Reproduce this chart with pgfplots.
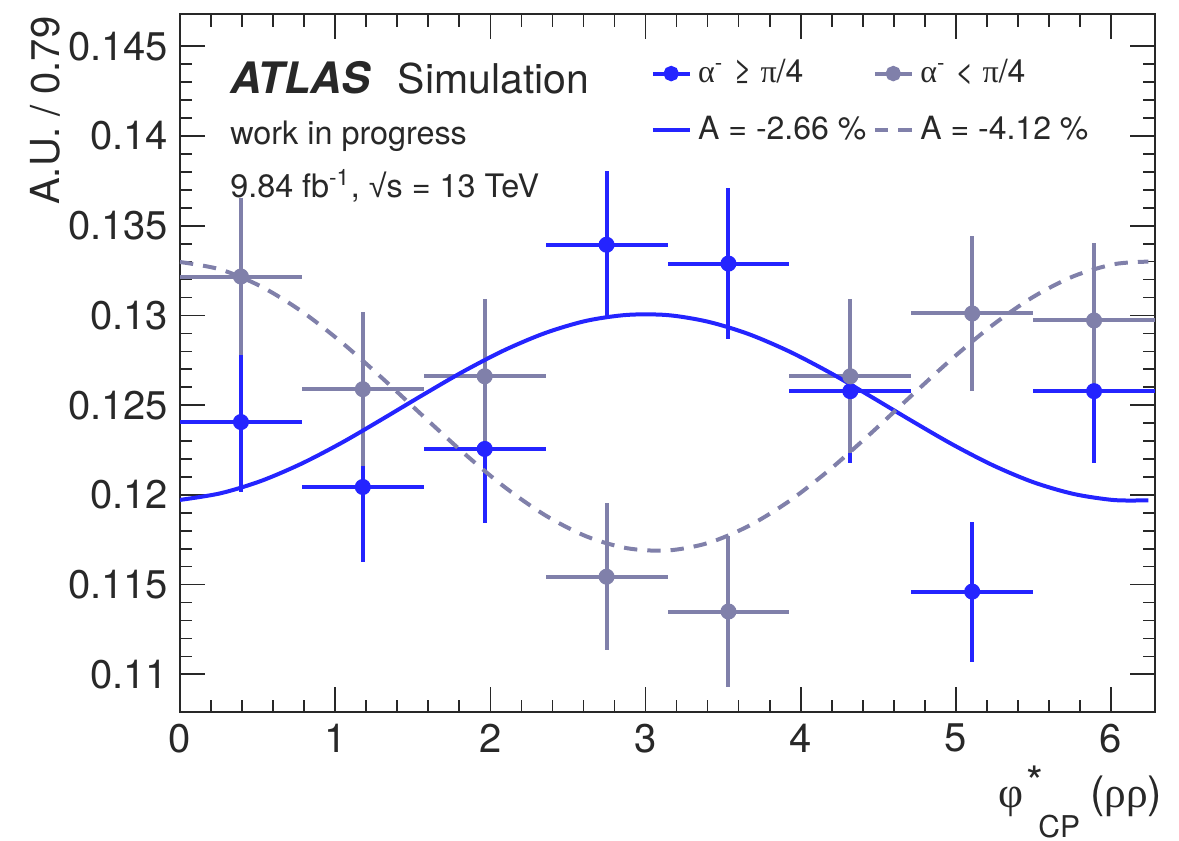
\documentclass[border=0pt]{standalone}
\usepackage{fontspec}
\setmainfont{TeX Gyre Heros}
\newfontfamily\grk{Liberation Serif}
\newfontfamily\libsans{Liberation Sans}
\usepackage{pgfplots}
\pgfplotsset{compat=1.18}
\definecolor{atlblue}{RGB}{36,36,255}
\definecolor{atlgrey}{RGB}{128,128,170}
\definecolor{axgrey}{RGB}{40,40,40}

% bin centres, half bin width, value, error
\pgfplotstableread{
x      ex      y       ey
0.3927 0.3927  0.12406 0.0039
1.1781 0.3927  0.12044 0.0042
1.9635 0.3927  0.12256 0.0041
2.7489 0.3927  0.13394 0.0041
3.5343 0.3927  0.13289 0.0042
4.3197 0.3927  0.12578 0.0040
5.1051 0.3927  0.11461 0.0039
5.8905 0.3927  0.12578 0.0040
}\bluedata
\pgfplotstableread{
x      ex      y       ey
0.3927 0.3927  0.13217 0.0044
1.1781 0.3927  0.12589 0.0043
1.9635 0.3927  0.12661 0.0043
2.7489 0.3927  0.11544 0.0041
3.5343 0.3927  0.11350 0.0042
4.3197 0.3927  0.12661 0.0043
5.1051 0.3927  0.13011 0.0043
5.8905 0.3927  0.12972 0.0043
}\greydata

\begin{document}
\begin{tikzpicture}
\begin{axis}[
  scale only axis, width=292.5pt, height=209.4pt,
  xmin=0, xmax=6.2832, ymin=0.1079, ymax=0.1468,
  xtick={0,1,2,3,4,5,6}, minor x tick num=4,
  ytick={0.11,0.115,0.12,0.125,0.13,0.135,0.14,0.145}, minor y tick num=4,
  tick align=inside, tick pos=both,
  major tick length=7.5pt, minor tick length=3.75pt,
  axis line style={axgrey, line width=0.6pt},
  tick style={axgrey, line width=0.5pt},
  ticklabel style={font=\fontsize{12}{14}\selectfont, text=axgrey},
  /pgf/number format/assume math mode=true,
  yticklabel style={/pgf/number format/fixed, /pgf/number format/precision=3},
  scaled y ticks=false,
  ylabel={A.U. / 0.79},
  ylabel style={at={(rel axis cs:-0.1385,1.013)}, anchor=east, font=\fontsize{12}{14}\selectfont, text=axgrey},
  xlabel={{\grk φ}\hspace{1pt}\rlap{\raisebox{3pt}{*}}\hspace{3.5pt}\raisebox{-9pt}{\fontsize{9}{10}\selectfont CP}\hspace{3pt}({\grk ρρ})},
  xlabel style={at={(rel axis cs:1.008,-0.1375)}, anchor=base east, inner sep=0pt, font=\fontsize{13}{15}\selectfont, text=axgrey},
  legend columns=2,
  legend cell align=left,
  legend style={draw=none, fill=none, at={(rel axis cs:0.472,0.955)}, anchor=north west,
    font=\fontsize{9.6}{11}\selectfont, text=axgrey, row sep=4.5pt,
    nodes={inner sep=2pt}},
  legend image code/.code={\draw[mark repeat=2,mark phase=2,#1] plot coordinates {(0pt,0pt) (5.5pt,0pt) (11pt,0pt)};},
]
\addlegendimage{atlblue, line width=1.2pt, mark=*, mark size=1.7pt}
\addlegendimage{atlgrey, line width=1.2pt, mark=*, mark size=1.7pt}
\addlegendimage{atlblue, line width=1.2pt}
\addlegendimage{atlgrey, line width=1.2pt, dash pattern=on 4pt off 3pt}
\legend{{\grk α}\textsuperscript{-} ≥ {\grk π}/4,
        {\grk α}\textsuperscript{-} < {\grk π}/4,
        A = -2.66 \%,
        A = -4.12 \%}

\addplot[forget plot, only marks, mark=*, mark size=1.8pt, color=atlblue,
  line width=1.2pt, mark options={fill=atlblue, draw=atlblue},
  error bars/.cd, x dir=both, x explicit, y dir=both, y explicit,
  error mark=none, error bar style={line width=1.2pt, atlblue}]
  table[x=x, y=y, x error=ex, y error=ey] {\bluedata};
\addplot[forget plot, only marks, mark=*, mark size=1.8pt, color=atlgrey,
  line width=1.2pt, mark options={fill=atlgrey, draw=atlgrey},
  error bars/.cd, x dir=both, x explicit, y dir=both, y explicit,
  error mark=none, error bar style={line width=1.2pt, atlgrey}]
  table[x=x, y=y, x error=ex, y error=ey] {\greydata};

\addplot[forget plot, atlblue, line width=1.2pt, smooth] coordinates {
(0.0000,0.11972) (0.2618,0.12009) (0.5236,0.12078) (0.7854,0.12175)
(1.0472,0.12293) (1.3090,0.12425) (1.5708,0.12560) (1.8326,0.12691)
(2.0944,0.12808) (2.3562,0.12903) (2.6180,0.12970) (2.8798,0.13003)
(3.1416,0.13002) (3.4034,0.12965) (3.6652,0.12896) (3.9270,0.12799)
(4.1888,0.12681) (4.4506,0.12549) (4.7124,0.12414) (4.9742,0.12283)
(5.2360,0.12166) (5.4978,0.12071) (5.7596,0.12005) (6.0214,0.11971)
(6.2400,0.11970)};
\addplot[forget plot, atlgrey, line width=1.2pt, smooth, dash pattern=on 4pt off 3pt] coordinates {
(0.0000,0.13298) (0.2618,0.13256) (0.5236,0.13161) (0.7854,0.13022)
(1.0472,0.12846) (1.3090,0.12646) (1.5708,0.12436) (1.8326,0.12230)
(2.0944,0.12042) (2.3562,0.11885) (2.6180,0.11769) (2.8798,0.11703)
(3.1416,0.11690) (3.4034,0.11732) (3.6652,0.11827) (3.9270,0.11966)
(4.1888,0.12142) (4.4506,0.12342) (4.7124,0.12552) (4.9742,0.12758)
(5.2360,0.12946) (5.4978,0.13103) (5.7596,0.13219) (6.0214,0.13286)
(6.2400,0.13300)};

\node[anchor=base west, inner sep=0pt, font=\fontsize{13}{15}\selectfont\bfseries\itshape, text=axgrey] at (axis cs:0.32,0.14239) {ATLAS};
\node[anchor=base west, inner sep=0pt, font=\fontsize{12.3}{15}\selectfont, text=axgrey] at (axis cs:1.40,0.14239) {Simulation};
\node[anchor=base west, inner sep=0pt, font=\fontsize{9.7}{12}\selectfont, text=axgrey] at (axis cs:0.32,0.1395) {work in progress};
\node[anchor=base west, inner sep=0pt, font=\fontsize{9.7}{12}\selectfont, text=axgrey] at (axis cs:0.32,0.13656) {9.84 fb\textsuperscript{-1}, {\libsans √}s = 13 TeV};
\end{axis}
\path (current axis.south west) ++(-54pt,-38.4pt);
\path (current axis.north east) ++(7.2pt,4.2pt);
\end{tikzpicture}
\end{document}
